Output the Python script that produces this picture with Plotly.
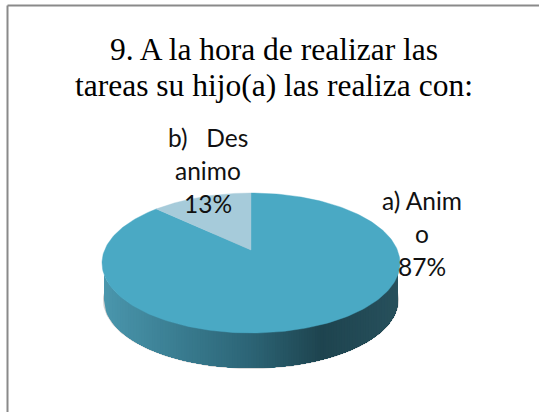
import numpy as np
import plotly.graph_objects as go

# Data
categories = ["a) Anim<br>o", "b)   Des<br>animo"]
values = [87, 13]
title_lines = ["9. A la hora de realizar las", "tareas su hijo(a) las realiza con:"]

# Style and projection of the 3-D disc (pixel space of the 539x412 frame)
W, H = 539, 412
CX, CY, RX, RY = 251.0, 263.0, 149.0, 70.0
BCX, BCY, BRX, BRY = 251.0, 300.0, 147.0, 68.0
PERSP = 13.0 / 70.0
COL_MAIN, COL_SECOND = "#4AA9C4", "#A6CBDA"
SIDE_STOPS = [(0.0, (74, 150, 172)), (0.25, (58, 125, 145)), (0.5, (44, 100, 117)),
              (0.74, (30, 68, 79)), (1.0, (39, 80, 92))]


def project(frac):
    """Fraction of the pie (clockwise from 12 o'clock) -> pixel position on the top rim."""
    a = 2 * np.pi * np.asarray(frac, dtype=float)
    u, v = np.sin(a), np.cos(a)
    d = 1 + PERSP * v
    return CX + RX * u * np.sqrt(1 - PERSP ** 2) / d, CY - RY * (v + PERSP) / d


def side_colour(t):
    xs = [s[0] for s in SIDE_STOPS]
    rgb = [np.interp(t, xs, [s[1][i] for s in SIDE_STOPS]) for i in range(3)]
    return "rgb(%d,%d,%d)" % tuple(round(c) for c in rgb)


def poly(x, y, colour, width=0.0):
    return go.Scatter(x=list(x), y=list(y), mode="lines", fill="toself", fillcolor=colour,
                      line=dict(color=colour, width=width), hoverinfo="skip", showlegend=False)


fig = go.Figure()

# soft shadow under the wall
th = np.linspace(0, 2 * np.pi, 241)
fig.add_trace(poly(BCX + (BRX + 1) * np.cos(th), BCY + (BRY + 1) * np.sin(th), "#CFCFCF"))

# wall: overlapping strips, each reaching to the right end, so no seams show
N = 110
edges = np.linspace(-BRX, BRX, N + 1)
for i in range(N):
    xs = np.linspace(edges[i], BRX, 160)
    yb = BCY + BRY * np.sqrt(np.clip(1 - (xs / BRX) ** 2, 0, 1))
    yt = CY + RY * np.sqrt(np.clip(1 - (xs / RX) ** 2, 0, 1))
    c = side_colour((i + 0.5) / N)
    fig.add_trace(poly(np.r_[BCX + xs, BCX + xs[::-1]], np.r_[yt, yb[::-1]], c))

# top face slices computed from the values
total = sum(values)
start = 0.0
apex_x, apex_y = CX, CY - RY * PERSP
for val, col in zip(values, [COL_MAIN, COL_SECOND]):
    f = np.linspace(start, start + val / total, 240)
    x, y = project(f)
    fig.add_trace(poly(np.r_[apex_x, x, apex_x], np.r_[apex_y, y, apex_y], col, 0.4))
    start += val / total

# labels, one annotation per line to hold the wide line pitch
LABEL_FONT = dict(family="Lato, Carlito, sans-serif", size=24.5, color="#111111")
PITCH = 33
label_pos = [(422, 200), (208, 137)]
ann = []
for cat, val, (lx, ly) in zip(categories, values, label_pos):
    lines = cat.split("<br>") + [f"{round(100 * val / total)}%"]
    for j, line in enumerate(lines):
        ann.append(dict(x=lx, y=ly + j * PITCH, text=line.replace(" ", "\u00a0"), showarrow=False,
                        xref="x", yref="y", xanchor="center", yanchor="middle", font=LABEL_FONT))

# title lines
for j, line in enumerate(title_lines):
    ann.append(dict(x=274, y=49 + j * 36, text=line, showarrow=False, xref="x", yref="y",
                    xanchor="center", yanchor="middle",
                    font=dict(family="Liberation Serif, serif", size=31.5, color="#000000")))

frame = dict(color="#8A8A8A", width=2)
fig.update_layout(
    width=W, height=H, margin=dict(l=0, r=0, t=0, b=0), autosize=False,
    paper_bgcolor="white", plot_bgcolor="white", showlegend=False, annotations=ann,
    xaxis=dict(range=[0, W], visible=False, fixedrange=True),
    yaxis=dict(range=[H, 0], visible=False, fixedrange=True),
    shapes=[
        dict(type="line", xref="x", yref="y", x0=7.5, x1=7.5, y0=5.5, y1=H, line=frame),
        dict(type="line", xref="x", yref="y", x0=7.5, x1=W, y0=5.5, y1=5.5, line=frame),
    ],
)
fig.write_html("out.html", config=dict(displayModeBar=False),
               post_script="document.body.style.margin='0';document.body.style.overflow='hidden';")
